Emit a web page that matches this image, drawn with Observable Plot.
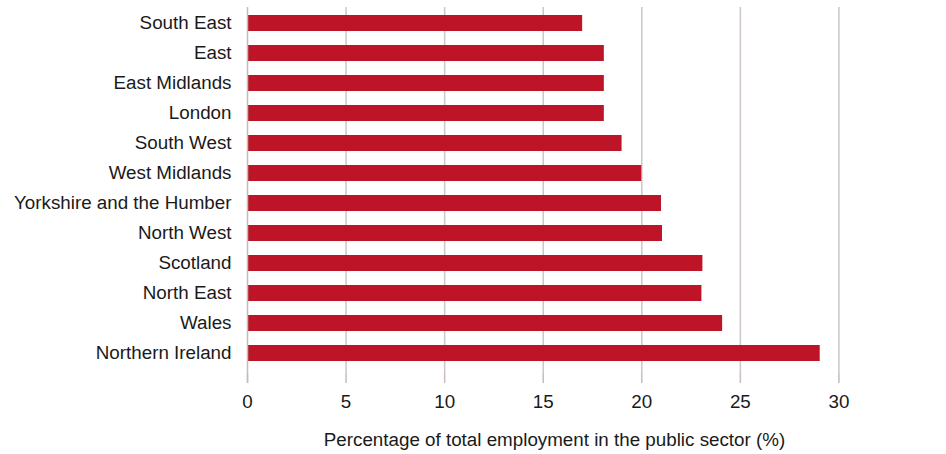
<!DOCTYPE html>
<html>
<head>
<meta charset="utf-8">
<script src="https://cdn.jsdelivr.net/npm/d3@7"></script>
<script src="https://cdn.jsdelivr.net/npm/@observablehq/plot@0.6"></script>
<style>
  html, body { margin: 0; padding: 0; background: #fff; }
  #chart svg { display: block; }
</style>
</head>
<body>
<div id="chart"></div>
<script>
const regions = ["South East", "East", "East Midlands", "London", "South West", "West Midlands",
  "Yorkshire and the Humber", "North West", "Scotland", "North East", "Wales", "Northern Ireland"];
const values = [17.0, 18.1, 18.1, 18.1, 19.0, 20.0, 21.0, 21.05, 23.1, 23.05, 24.1, 29.05];
const xTicks = [0, 5, 10, 15, 20, 25, 30];
const xTitle = "Percentage of total employment in the public sector (%)";

const data = regions.map((r, i) => ({region: r, value: values[i]}));

const chart = Plot.plot({
  width: 946,
  height: 454,
  marginLeft: 247,
  marginRight: 9,
  marginTop: 7,
  marginBottom: 80,
  style: {fontFamily: "'Liberation Sans', Arial, Helvetica, sans-serif", fontSize: "18.8px", color: "#1a1a1a", background: "#fff"},
  x: {domain: [0, 35]},
  y: {domain: regions, paddingInner: 0.47, paddingOuter: 0.28, align: 0.4},
  marks: [
    Plot.ruleX(xTicks.slice(1), {stroke: "#cdc6c2", strokeWidth: 1.5}),
    Plot.barX(data, {y: "region", x: "value", fill: "#be1428"}),
    Plot.ruleY([0], {frameAnchor: "bottom", stroke: "#c4bdb9", strokeWidth: 1.5}),
    Plot.ruleX([0], {stroke: "#c4bdb9", strokeWidth: 1.5, insetBottom: -9}),
    Plot.axisX({ticks: xTicks, tickSize: 9, stroke: "#c4bdb9", strokeWidth: 1.5, tickPadding: 11, fontSize: 18.8, label: null, fill: "#1a1a1a"}),
    Plot.axisY({tickSize: 0, tickPadding: 16, fontSize: 18.8, label: null, fill: "#1a1a1a", dy: -1}),
    Plot.text([xTitle], {frameAnchor: "bottom", dy: 71, dx: -38, fontSize: 18.8, fill: "#1a1a1a"})
  ]
});
document.getElementById("chart").appendChild(chart);
</script>
</body>
</html>
